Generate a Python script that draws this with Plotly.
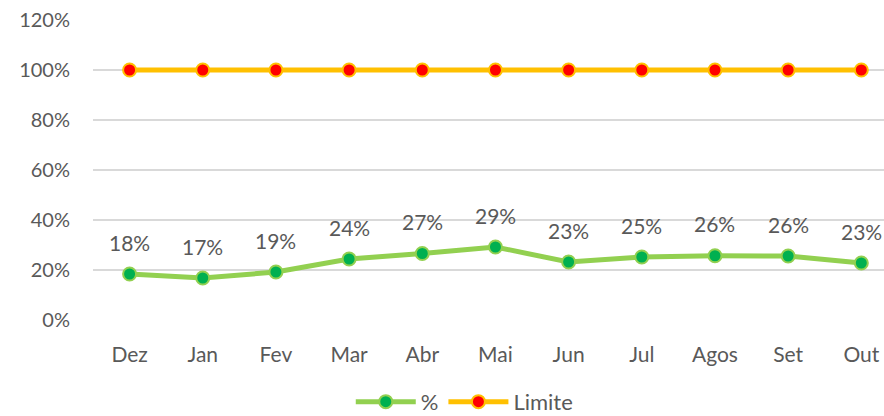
import plotly.graph_objects as go

# Monthly share vs. the 100% limit
months = ["Dez", "Jan", "Fev", "Mar", "Abr", "Mai", "Jun", "Jul", "Agos", "Set", "Out"]
pct = [0.184, 0.168, 0.192, 0.244, 0.266, 0.292, 0.232, 0.252, 0.257, 0.256, 0.228]
limite = [1.0] * len(months)
y_ticks = [0, 0.2, 0.4, 0.6, 0.8, 1.0, 1.2]

FONT = "Lato, 'Open Sans', sans-serif"
TXT = "#595959"

fig = go.Figure()
fig.add_trace(go.Scatter(
    x=months, y=pct, name="%", mode="lines+markers",
    line=dict(color="#92D050", width=5),
    marker=dict(size=13, color="#00B050", line=dict(color="#92D050", width=2)),
))
fig.add_trace(go.Scatter(
    x=months, y=limite, name="Limite", mode="lines+markers",
    line=dict(color="#FFC000", width=5),
    marker=dict(size=13, color="#FF0000", line=dict(color="#FFC000", width=2)),
))

# value labels above the % series
for m, v in zip(months, pct):
    fig.add_annotation(x=m, y=v, text=f"{v:.0%}", showarrow=False,
                       yshift=32, font=dict(family=FONT, size=21, color=TXT))

fig.update_layout(
    width=884, height=416,
    margin=dict(l=93, r=0, t=20, b=96, autoexpand=False),
    paper_bgcolor="white", plot_bgcolor="white",
    font=dict(family=FONT, size=20, color=TXT),
    showlegend=True,
    legend=dict(orientation="h", x=0.47, xanchor="center",
                yref="container", y=0.034, yanchor="middle",
                itemwidth=60, font=dict(size=22, color=TXT)),
)
fig.update_xaxes(
    type="category", range=[-0.5, 10.31], showgrid=False, zeroline=False,
    showline=False, ticks="", ticklabelstandoff=20,
    tickfont=dict(family=FONT, size=21, color=TXT),
)
fig.update_yaxes(
    range=[0, 1.2], tickvals=y_ticks, tickformat=".0%",
    showgrid=True, gridcolor="#D9D9D9", gridwidth=1.5, zeroline=False,
    showline=False, ticks="", ticklabelstandoff=22,
    tickfont=dict(family=FONT, size=20, color=TXT),
)

fig.write_html("out.html")
